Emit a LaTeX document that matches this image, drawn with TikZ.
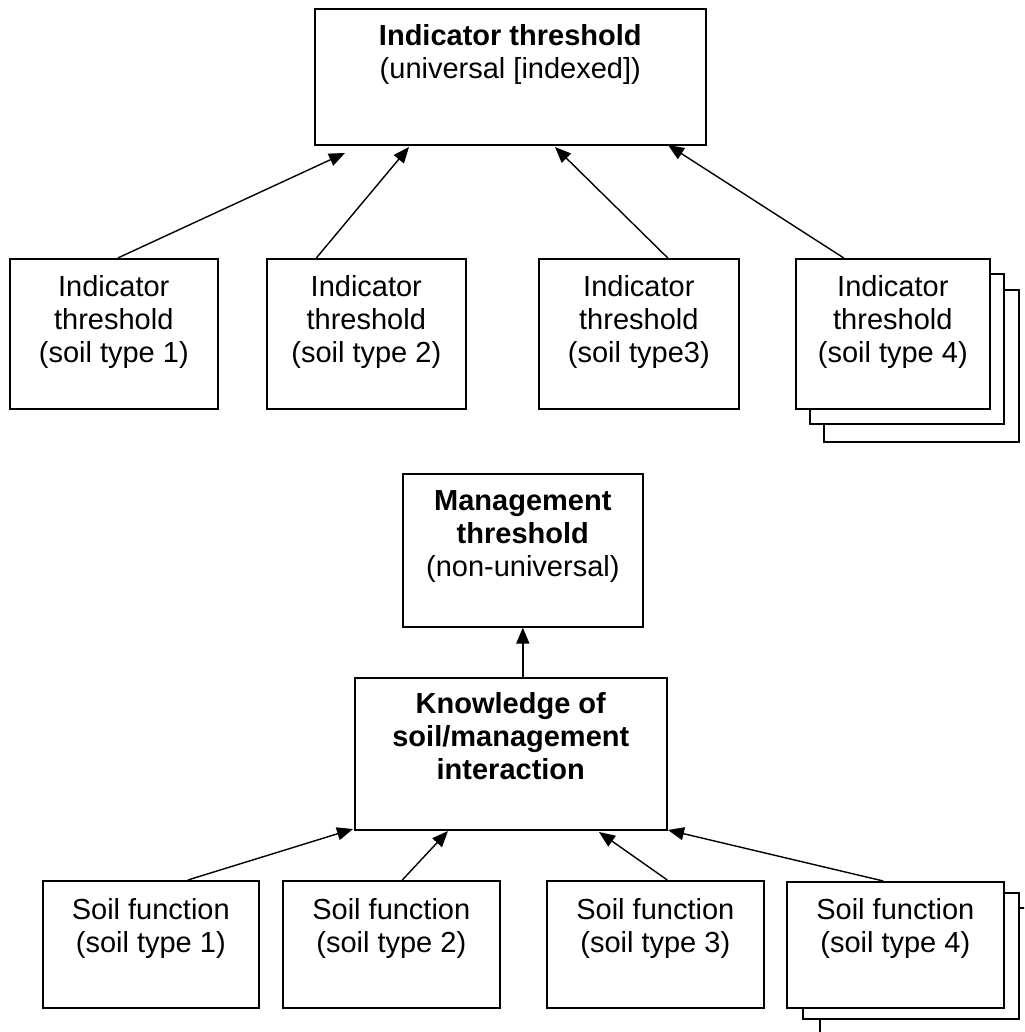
\documentclass[tikz,border=0pt]{standalone}
\usepackage{fontspec}
\setmainfont{Liberation Sans}
\usetikzlibrary{arrows.meta}
\newcommand\bxt[4]{\parbox[c][#2pt][t]{#1pt}{\centering\fontsize{29}{33}\selectfont\rule{0pt}{#3pt}#4\par}}
\begin{document}
\begin{tikzpicture}[x=1pt,y=-1pt,
  box/.style={draw, line width=1.6pt, inner sep=0pt, anchor=north west, fill=white},
  arr/.style={line width=1.4pt, -{Triangle[length=16pt,width=13pt]}}]
\useasboundingbox (0,0) rectangle (1024,1032);
\clip (0,0) rectangle (1024,1032);
% top
\node[box] (top) at (314,8) {\bxt{391}{136}{37}{\textbf{Indicator threshold}\\(universal [indexed])}};
% row 1
\node[box] (r1a) at (9,258) {\bxt{208}{150}{38}{Indicator\\threshold\\(soil type 1)}};
\node[box] (r1b) at (266,258) {\bxt{199}{150}{38}{Indicator\\threshold\\(soil type 2)}};
\node[box] (r1c) at (538,258) {\bxt{200}{150}{38}{Indicator\\threshold\\(soil type3)}};
\node[box, minimum width=195pt, minimum height=152pt] (r1d3) at (823,289) {};
\node[box, minimum width=194pt, minimum height=150pt] (r1d2) at (809,273) {};
\node[box] (r1d) at (795,258) {\bxt{194}{150}{38}{Indicator\\threshold\\(soil type 4)}};
% tips row 1
\coordinate (t1) at (345,153);
\coordinate (t2) at (409,147);
\coordinate (t3) at (555,147);
\coordinate (t4) at (668,145);
\draw[arr] ([xshift=4pt]r1a.north) -- (t1);
\draw[arr] ([xshift=-50pt]r1b.north) -- (t2);
\draw[arr] ([xshift=29pt]r1c.north) -- (t3);
\draw[arr] ([xshift=-49pt]r1d.north) -- (t4);
% management
\node[box] (mg) at (402,473) {\bxt{240}{153}{37}{\textbf{Management}\\\textbf{threshold}\\(non-universal)}};
\node[box] (kn) at (354,677) {\bxt{312}{152}{36}{\textbf{Knowledge of}\\\textbf{soil/management}\\\textbf{interaction}}};
\draw[arr] (mg.south |- kn.north) -- (mg.south);
% row 2
\node[box] (r2a) at (42,880) {\bxt{216}{127}{39}{Soil function\\(soil type 1)}};
\node[box] (r2b) at (282,880) {\bxt{217}{127}{39}{Soil function\\(soil type 2)}};
\node[box] (r2c) at (546,880) {\bxt{217}{127}{39}{Soil function\\(soil type 3)}};
\node[box, minimum width=216pt, minimum height=126pt] (r2d3) at (819,907) {};
\node[box, minimum width=216pt, minimum height=126pt] (r2d2) at (802,892) {};
\node[box] (r2d) at (786,881) {\bxt{217}{126}{38}{Soil function\\(soil type 4)}};
\coordinate (u1) at (353,829);
\coordinate (u2) at (448,831);
\coordinate (u3) at (599,832);
\coordinate (u4) at (668,830);
\draw[arr] ([xshift=37pt]r2a.north) -- (u1);
\draw[arr] ([xshift=11pt]r2b.north) -- (u2);
\draw[arr] ([xshift=12pt]r2c.north) -- (u3);
\draw[arr] ([xshift=-12pt]r2d.north) -- (u4);
\end{tikzpicture}
\end{document}
